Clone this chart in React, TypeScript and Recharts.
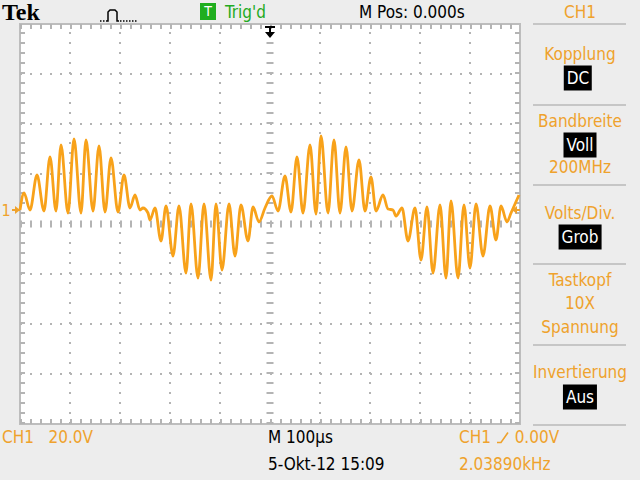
import React from 'react';
import {
  LineChart,
  Line,
  XAxis,
  YAxis,
  CartesianGrid,
  ReferenceLine,
  ReferenceArea,
  ReferenceDot,
} from 'recharts';

// CH1 trace: time in µs (100 µs/div), voltage relative to the "1" ground marker (20 V/div)
const timeUs = [
  0, 8, 20, 34, 48, 60, 72, 82, 96, 108, 122, 132, 146, 158, 170, 182, 196, 208, 220, 230,
  240, 246, 256, 260, 270, 282, 292, 306, 318, 332, 342, 356, 368, 382, 392, 404, 418, 430, 442, 456,
  466, 478, 490, 504, 516, 530, 542, 554, 566, 580, 592, 602, 616, 628, 640, 652, 664, 678, 690, 702,
  712, 726, 736, 746, 752, 764, 776, 790, 802, 814, 826, 840, 852, 862, 876, 888, 900, 912, 926, 940,
  952, 962, 974, 982, 998,
];
const ch1Volts = [
  0, 6.8, 0, 14, -0.4, 21.2, -0.4, 26, -1.2, 28.4, -1.2, 28, -0.4, 25.6, -0.8, 20.8, -0.8, 14, 0.8, 6,
  0, 0.8, -1.2, -4, 0.8, -12.4, 1.6, -18.4, 1.6, -25.2, 2.4, -27.2, 2.4, -28, 2.4, -24, 2.4, -18.4, 2, -12.4,
  1.2, -4.8, 0.8, 5.6, -0.4, 13.6, -0.8, 21.2, -1.2, 26, -1.6, 29.6, -1.2, 28, -1.2, 25.2, -0.4, 20, -0.4, 13.2,
  -0.4, 6, 0.4, 0, -2.4, 0.8, -12.4, 0.8, -20, 1.2, -25.2, 2, -27.2, 3.6, -27.2, 2, -23.2, 2.4, -18.4, 1.6,
  -12, 1.6, -4.8, -1.2, 6,
];

const data = timeUs.map((t, i) => ({ t, v: ch1Volts[i] }));

// scope settings
const voltsPerDiv = 20;
const usPerDiv = 100;
const groundOffsetDiv = 0.28; // ground marker sits a bit above screen centre
const triggerTimeUs = 500;
const triggerLevelV = 0;

const centerV = -groundOffsetDiv * voltsPerDiv;
const yMin = centerV - 4 * voltsPerDiv;
const yMax = centerV + 4 * voltsPerDiv;
const tMax = 10 * usPerDiv;

const gridTimes = [100, 200, 300, 400, 600, 700, 800, 900];
const gridVolts = [-3, -2, -1, 1, 2, 3].map((k) => centerV + k * voltsPerDiv);

const ORANGE = '#EFA22C';
const TRACE = '#F8A21A';
const GRID = '#b4b4b4';
const FONT = "'DejaVu Sans Condensed', 'Liberation Sans Narrow', sans-serif";

const Txt = ({ x, y, color = '#000', size = 17, center = false, children }: any) => (
  <div
    style={{
      position: 'absolute',
      left: x,
      top: y,
      transform: center ? 'translate(-50%, -50%)' : 'translate(0, -50%)',
      color,
      fontSize: size,
      fontFamily: FONT,
      whiteSpace: 'pre',
      lineHeight: 1,
    }}
  >
    {children}
  </div>
);

const Inv = ({ children }: any) => (
  <span style={{ background: '#000', color: '#fff', padding: '4px 3px', display: 'inline-block' }}>
    {children}
  </span>
);

const Sep = ({ y }: { y: number }) => (
  <div style={{ position: 'absolute', left: 533, top: y - 1, width: 93, height: 2, background: '#c6c6c6' }} />
);

const GroundMarker = ({ cx, cy }: any) => (
  <g>
    <text x={cx - 14} y={cy + 6} fontSize={16} fill={ORANGE} fontFamily={FONT} textAnchor="middle">
      1
    </text>
    <line x1={cx - 8} y1={cy} x2={cx} y2={cy} stroke={ORANGE} strokeWidth={2} />
    <polygon points={`${cx},${cy} ${cx - 5},${cy - 4} ${cx - 5},${cy + 4}`} fill={ORANGE} />
  </g>
);

const TriggerLevelMarker = ({ cx, cy }: any) => (
  <g>
    <line x1={cx - 7} y1={cy} x2={cx} y2={cy} stroke={ORANGE} strokeWidth={2} />
    <polygon points={`${cx - 8},${cy} ${cx - 3},${cy - 4} ${cx - 3},${cy + 4}`} fill={ORANGE} />
  </g>
);

const TriggerPosMarker = ({ cx, cy }: any) => (
  <g>
    <line x1={cx - 5} y1={cy + 3} x2={cx + 5} y2={cy + 3} stroke="#000" strokeWidth={2} />
    <line x1={cx} y1={cy + 3} x2={cx} y2={cy + 10} stroke="#000" strokeWidth={2} />
    <polygon points={`${cx - 5},${cy + 8} ${cx + 5},${cy + 8} ${cx},${cy + 14}`} fill="#000" />
  </g>
);

export default function App() {
  return (
    <div
      style={{
        position: 'fixed',
        left: 0,
        top: 0,
        width: 640,
        height: 480,
        background: '#ededed',
        overflow: 'hidden',
      }}
    >
      <LineChart
        width={640}
        height={480}
        data={data}
        margin={{ top: 24, right: 120, bottom: 56, left: 20 }}
      >
        <CartesianGrid fill="#ffffff" horizontal={false} vertical={false} />
        <XAxis type="number" dataKey="t" domain={[0, tMax]} hide />
        <YAxis type="number" domain={[yMin, yMax]} hide />

        {gridTimes.map((t) => (
          <ReferenceLine key={'gx' + t} x={t} stroke={GRID} strokeWidth={2} strokeDasharray="2 8" />
        ))}
        {gridVolts.map((v) => (
          <ReferenceLine key={'gy' + v} y={v} stroke={GRID} strokeWidth={2} strokeDasharray="2 8" />
        ))}
        {/* centre axes with minor ticks */}
        <ReferenceLine x={triggerTimeUs} stroke={GRID} strokeWidth={7} strokeDasharray="2 8" />
        <ReferenceLine y={centerV} stroke={GRID} strokeWidth={7} strokeDasharray="2 8" />
        {/* edge rulers */}
        <ReferenceLine x={5} stroke={GRID} strokeWidth={5} strokeDasharray="2 8" />
        <ReferenceLine x={tMax - 5} stroke={GRID} strokeWidth={5} strokeDasharray="2 8" />
        <ReferenceLine y={yMax - 1} stroke={GRID} strokeWidth={5} strokeDasharray="2 8" />
        <ReferenceLine y={yMin + 1} stroke={GRID} strokeWidth={5} strokeDasharray="2 8" />

        <ReferenceArea
          x1={0}
          x2={tMax}
          y1={yMin}
          y2={yMax}
          fill="none"
          fillOpacity={0}
          stroke="#bdbdbd"
          strokeWidth={2}
        />

        <Line
          type="monotone"
          dataKey="v"
          stroke={TRACE}
          strokeWidth={2.8}
          dot={false}
          isAnimationActive={false}
        />

        <ReferenceDot x={0} y={0} r={0} shape={GroundMarker} ifOverflow="visible" />
        <ReferenceDot x={tMax} y={triggerLevelV} r={0} shape={TriggerLevelMarker} ifOverflow="visible" />
        <ReferenceDot x={triggerTimeUs} y={yMax} r={0} shape={TriggerPosMarker} ifOverflow="visible" />
      </LineChart>

      {/* top bar */}
      <div
        style={{
          position: 'absolute',
          left: 2,
          top: 0,
          fontFamily: "'Liberation Serif', serif",
          fontWeight: 'bold',
          fontSize: 24,
          lineHeight: '24px',
          color: '#000',
        }}
      >
        Tek
      </div>
      <svg style={{ position: 'absolute', left: 98, top: 9 }} width={42} height={14}>
        <line x1={2} y1={12} x2={9} y2={12} stroke="#000" strokeWidth={1.5} strokeDasharray="1.5 1.5" />
        <polyline points="9,12 10,12 10,3 12,1 17,1 19,3 19,12 21,12" fill="none" stroke="#000" strokeWidth={1.5} />
        <line x1={22} y1={12} x2={40} y2={12} stroke="#000" strokeWidth={1.5} strokeDasharray="1.5 1.5" />
      </svg>
      <div
        style={{
          position: 'absolute',
          left: 200,
          top: 3,
          width: 16,
          height: 17,
          background: '#1fae1f',
          color: '#fff',
          fontFamily: FONT,
          fontSize: 14,
          textAlign: 'center',
          lineHeight: '17px',
        }}
      >
        T
      </div>
      <Txt x={225} y={12} color="#22aa22">
        Trig'd
      </Txt>
      <Txt x={359} y={12}>
        M Pos: 0.000s
      </Txt>
      <Txt x={580} y={12} color={ORANGE} center>
        CH1
      </Txt>

      {/* channel menu */}
      <Sep y={24} />
      <Txt x={580} y={54} color={ORANGE} center>
        Kopplung
      </Txt>
      <Txt x={578} y={78} center>
        <Inv>DC</Inv>
      </Txt>
      <Sep y={105} />
      <Txt x={580} y={121} color={ORANGE} center>
        Bandbreite
      </Txt>
      <Txt x={580} y={145} center>
        <Inv>Voll</Inv>
      </Txt>
      <Txt x={580} y={167} color={ORANGE} center>
        200MHz
      </Txt>
      <Sep y={185} />
      <Txt x={580} y={213} color={ORANGE} center>
        Volts/Div.
      </Txt>
      <Txt x={580} y={237} center>
        <Inv>Grob</Inv>
      </Txt>
      <Sep y={264} />
      <Txt x={580} y={280} color={ORANGE} center>
        Tastkopf
      </Txt>
      <Txt x={580} y={303} color={ORANGE} center>
        10X
      </Txt>
      <Txt x={580} y={327} color={ORANGE} center>
        Spannung
      </Txt>
      <Sep y={345} />
      <Txt x={580} y={372} color={ORANGE} center>
        Invertierung
      </Txt>
      <Txt x={580} y={397} center>
        <Inv>Aus</Inv>
      </Txt>
      <Sep y={425} />

      {/* bottom status */}
      <Txt x={2} y={437} color={ORANGE}>
        {'CH1   20.0V'}
      </Txt>
      <Txt x={268} y={437}>
        M 100µs
      </Txt>
      <Txt x={268} y={464}>
        5-Okt-12 15:09
      </Txt>
      <Txt x={459} y={437} color={ORANGE}>
        <span>CH1 </span>
        <svg width={14} height={14} style={{ verticalAlign: 'middle' }}>
          <polyline points="1,12 5,12 12,2" fill="none" stroke={ORANGE} strokeWidth={1.6} />
        </svg>
        <span> 0.00V</span>
      </Txt>
      <Txt x={459} y={464} color={ORANGE}>
        2.03890kHz
      </Txt>
    </div>
  );
}
